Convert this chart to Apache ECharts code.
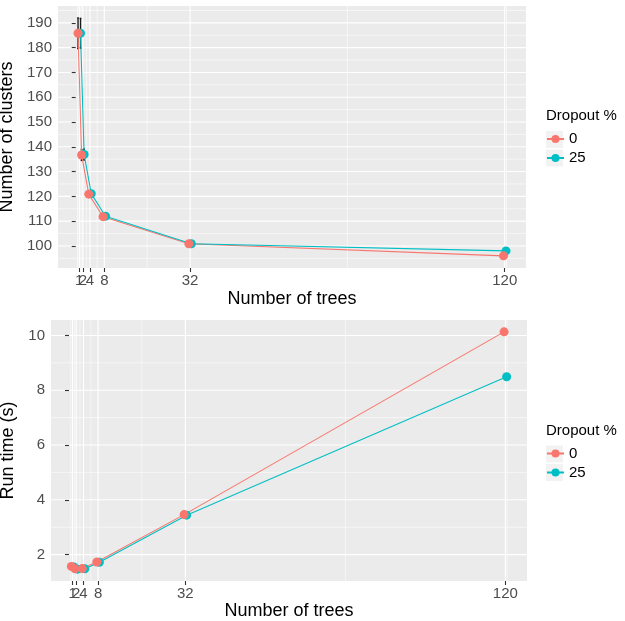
<!DOCTYPE html>
<html><head><meta charset="utf-8">
<script src="https://cdn.jsdelivr.net/npm/echarts@6/dist/echarts.min.js"></script>
<style>html,body{margin:0;padding:0;background:#fff}#c{width:625px;height:621px}</style>
</head><body><div id="c"></div><script>
// ---- data ----
const trees = [1, 2, 4, 8, 32, 120];
const dropouts = ['0', '25'];
const clusters0 = [185.8, 136.7, 120.9, 111.8, 100.9, 96.0];
const clusters25 = [185.8, 136.9, 121.1, 112.0, 100.9, 98.0];
const clustersErr0 = [6.2, 2.2, 0.8, 0.5, 0.3, 0.1];
const clustersErr25 = [6.0, 2.2, 0.8, 0.5, 0.3, 0.1];
const runtime0 = [1.57, 1.48, 1.49, 1.73, 3.46, 10.13];
const runtime25 = [1.55, 1.47, 1.48, 1.72, 3.44, 8.49];
const xTicks = [1, 2, 4, 8, 32, 120];
const xMinor = [0.5, 1.5, 3, 6, 20, 76, 120.5];
const clusterTicks = [100, 110, 120, 130, 140, 150, 160, 170, 180, 190];
const clusterMinor = [95, 105, 115, 125, 135, 145, 155, 165, 175, 185, 195];
const runtimeTicks = [2, 4, 6, 8, 10];
const runtimeMinor = [3, 5, 7, 9];

// ---- style ----
const FONT = '"Liberation Sans", Arial, Helvetica, sans-serif';
const COLORS = ['#F8766D', '#00BFC4'];
const DODGE = [-0.35, 0.35];
const grids = [
  {left: 58, top: 6, width: 468, height: 262},
  {left: 51, top: 320, width: 476, height: 261}
];

function expand(lo, hi) { const d = (hi - lo) * 0.05; return [lo - d, hi + d]; }
const xr = expand(Math.min(...trees), Math.max(...trees));
const allCl = [];
clusters0.forEach((v, i) => { allCl.push(v - clustersErr0[i], v + clustersErr0[i]); });
clusters25.forEach((v, i) => { allCl.push(v - clustersErr25[i], v + clustersErr25[i]); });
const yr0 = expand(Math.min(...allCl), Math.max(...allCl));
const allRt = runtime0.concat(runtime25);
const yr1 = expand(Math.min(...allRt), Math.max(...allRt));
const yRanges = [yr0, yr1];
const XI = [0, 2]; // main x axis index for each panel

function gridLineSeries(idx, xMaj, xMin, yMaj, yMin) {
  const yr = yRanges[idx];
  const data = [];
  xMin.forEach(v => data.push([v, yr[0], 0, 0]));
  yMin.forEach(v => data.push([xr[0], v, 1, 0]));
  xMaj.forEach(v => data.push([v, yr[0], 0, 1]));
  yMaj.forEach(v => data.push([xr[0], v, 1, 1]));
  return {
    type: 'custom', xAxisIndex: XI[idx], yAxisIndex: idx, silent: true, z: 0,
    data: data,
    renderItem: function (params, api) {
      const cs = params.coordSys;
      const p = api.coord([api.value(0), api.value(1)]);
      const w = api.value(3) ? 1.1 : 0.55;
      const shape = api.value(2) === 0
        ? {x1: p[0], y1: cs.y, x2: p[0], y2: cs.y + cs.height}
        : {x1: cs.x, y1: p[1], x2: cs.x + cs.width, y2: p[1]};
      return {type: 'line', shape: shape, style: {stroke: '#FFFFFF', lineWidth: w}};
    }
  };
}

function errSeries(idx, vals, errs, k) {
  return {
    type: 'custom', xAxisIndex: XI[idx], yAxisIndex: idx, silent: true, z: 2,
    data: trees.map((t, i) => [t + DODGE[k], vals[i] - errs[i], vals[i] + errs[i]]),
    renderItem: function (params, api) {
      const x = api.value(0);
      const a = api.coord([x, api.value(1)]);
      const b = api.coord([x, api.value(2)]);
      const c1 = api.coord([x - 0.25, api.value(1)]);
      const c2 = api.coord([x + 0.25, api.value(1)]);
      const st = {stroke: '#1A1A1A', lineWidth: 1.4};
      return {type: 'group', children: [
        {type: 'line', shape: {x1: a[0], y1: a[1], x2: b[0], y2: b[1]}, style: st},
        {type: 'line', shape: {x1: c1[0], y1: a[1], x2: c2[0], y2: a[1]}, style: st},
        {type: 'line', shape: {x1: c1[0], y1: b[1], x2: c2[0], y2: b[1]}, style: st}
      ]};
    }
  };
}

function lineSeries(idx, vals, k) {
  return {
    type: 'line', name: dropouts[k], xAxisIndex: XI[idx], yAxisIndex: idx, z: 3,
    data: trees.map((t, i) => [t + DODGE[k], vals[i]]),
    symbol: 'none', silent: true,
    lineStyle: {color: COLORS[k], width: 1.1},
    itemStyle: {color: COLORS[k]}
  };
}
function pointSeries(idx, vals, k, z) {
  return {
    type: 'scatter', name: dropouts[k], xAxisIndex: XI[idx], yAxisIndex: idx, z: z,
    data: trees.map((t, i) => [t + DODGE[k], vals[i]]),
    symbol: 'circle', symbolSize: 9, silent: true,
    itemStyle: {color: COLORS[k], opacity: 1}
  };
}

const tickLabel = {color: '#4D4D4D', fontSize: 15, fontFamily: FONT, margin: 6,
  hideOverlap: false, showMinLabel: true, showMaxLabel: true};
// Tick labels are split over two stacked axes (alternating) so that the
// crowded labels (1, 2) are both drawn, as in the original.
const xLabelsA = xTicks.filter((v, i) => i % 2 === 0);
const xLabelsB = xTicks.filter((v, i) => i % 2 === 1);
function xAxisPair(idx, gap) {
  const base = {gridIndex: idx, type: 'value', min: xr[0], max: xr[1], position: 'bottom', offset: 0,
    splitLine: {show: false}, axisLine: {show: false}};
  return [
    Object.assign({}, base, {
      axisTick: {show: true, customValues: xTicks, length: 4, lineStyle: {color: '#333333', width: 1.1}},
      axisLabel: Object.assign({customValues: xLabelsA}, tickLabel, {margin: 5}),
      name: 'Number of trees', nameLocation: 'middle', nameGap: gap,
      nameTextStyle: {fontSize: 18, color: '#000000', fontFamily: FONT}
    }),
    Object.assign({}, base, {
      axisTick: {show: false},
      axisLabel: Object.assign({customValues: xLabelsB}, tickLabel, {margin: 5})
    })
  ];
}
function yAxis(idx, ticks, name, gap) {
  return {
    gridIndex: idx, type: 'value', min: yRanges[idx][0], max: yRanges[idx][1],
    splitLine: {show: false}, axisLine: {show: false},
    axisTick: {show: true, customValues: ticks, length: 4, lineStyle: {color: '#333333', width: 1.1}},
    axisLabel: Object.assign({customValues: ticks}, tickLabel),
    name: name, nameLocation: 'middle', nameGap: gap, nameRotate: 90,
    nameTextStyle: {fontSize: 18, color: '#000000', fontFamily: FONT}
  };
}

const legendTops = [139.5, 454];
function legend(idx) {
  return {
    orient: 'vertical', left: 546, top: legendTops[idx] - 8, padding: 0,
    itemWidth: 17, itemHeight: 10, itemGap: 4, selectedMode: false,
    data: dropouts,
    textStyle: {fontSize: 15, color: '#000000', fontFamily: FONT}
  };
}
const graphics = [];
legendTops.forEach(c => {
  graphics.push({type: 'text', left: 546, top: c - 31, z: 0,
    style: {text: 'Dropout %', fontSize: 15, fontFamily: FONT, fill: '#000000'}});
  [0, 1].forEach(j => graphics.push({type: 'rect', left: 546, top: c - 8.5 + j * 18.5, z: 0,
    shape: {width: 17, height: 17}, style: {fill: '#F2F2F2'}}));
});

const chart = echarts.init(document.getElementById('c'), null, {renderer: 'canvas'});
chart.setOption({
  animation: false,
  backgroundColor: '#FFFFFF',
  grid: grids.map(g => Object.assign({show: true, backgroundColor: '#EBEBEB', borderWidth: 0,
    containLabel: false, outerBoundsMode: 'none'}, g)),
  xAxis: xAxisPair(0, 22).concat(xAxisPair(1, 21)),
  yAxis: [yAxis(0, clusterTicks, 'Number of clusters', 33), yAxis(1, runtimeTicks, 'Run time (s)', 26)],
  legend: [legend(0), legend(1)],
  graphic: graphics,
  series: [
    gridLineSeries(0, xTicks, xMinor, clusterTicks, clusterMinor),
    gridLineSeries(1, xTicks, xMinor, runtimeTicks, runtimeMinor),
    lineSeries(0, clusters0, 0), lineSeries(0, clusters25, 1),
    errSeries(0, clusters0, clustersErr0, 0), errSeries(0, clusters25, clustersErr25, 1),
    pointSeries(0, clusters25, 1, 4), pointSeries(0, clusters0, 0, 5),
    lineSeries(1, runtime0, 0), lineSeries(1, runtime25, 1),
    pointSeries(1, runtime25, 1, 4), pointSeries(1, runtime0, 0, 5)
  ]
});
</script></body></html>
